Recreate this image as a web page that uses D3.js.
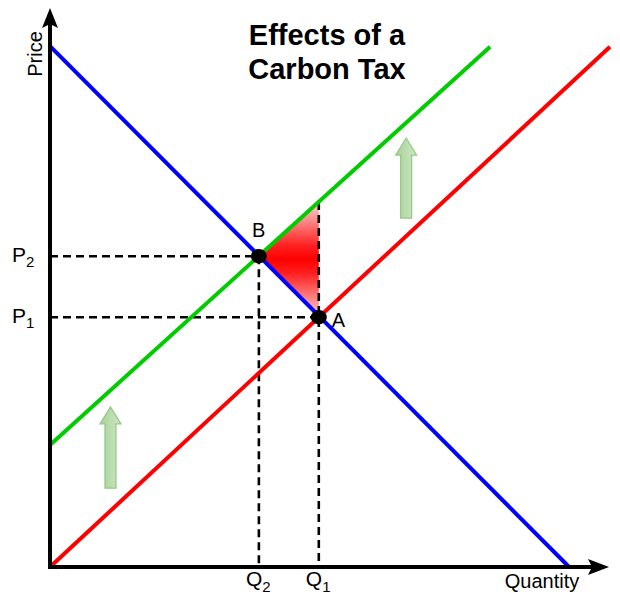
<!DOCTYPE html>
<html>
<head>
<meta charset="utf-8">
<script src="https://cdn.jsdelivr.net/npm/d3@7"></script>
<style>
  html, body { margin: 0; padding: 0; background: #fff; }
  svg { display: block; font-family: "Liberation Sans", Arial, Helvetica, sans-serif; }
</style>
</head>
<body>
<svg id="chart" width="620" height="600"></svg>
<script>
// ---- data (quantity, price in chart units 0..100) ----
const titleLines = ["Effects of a", "Carbon Tax"];
const demand = [[0, 93], [92.7, 0]];
const supply = [[0, 0], [100, 92.9]];
const supplyTax = [[0, 21.8], [78.6, 92.9]];
const points = [
  { label: "A", q: 48.0, p: 44.6 },
  { label: "B", q: 37.3, p: 55.5 }
];
const lossTriangle = [[37.3, 55.5], [48.0, 65.2], [48.0, 44.6]];
const priceTicks = [{ base: "P", sub: "2", p: 55.5 }, { base: "P", sub: "1", p: 44.6 }];
const qtyTicks = [{ base: "Q", sub: "2", q: 37.3 }, { base: "Q", sub: "1", q: 48.0 }];
const shiftArrows = [{ q: 63.6, p0: 62.3, p1: 76.6 }, { q: 10.8, p0: 14.1, p1: 28.6 }];
const axisLabels = { x: "Quantity", y: "Price" };

// ---- scales ----
const x = d3.scaleLinear().domain([0, 100]).range([50, 610]);
const y = d3.scaleLinear().domain([0, 100]).range([567, 7]);

const svg = d3.select("#chart");
const defs = svg.append("defs");

const tg = defs.append("linearGradient").attr("id", "triGrad")
  .attr("x1", 0).attr("y1", 0).attr("x2", 0).attr("y2", 1);
tg.append("stop").attr("offset", 0).attr("stop-color", "#fcd8d8");
tg.append("stop").attr("offset", 0.38).attr("stop-color", "#ff2020");
tg.append("stop").attr("offset", 0.5).attr("stop-color", "#ff0000");
tg.append("stop").attr("offset", 0.62).attr("stop-color", "#ff2020");
tg.append("stop").attr("offset", 1).attr("stop-color", "#fcd0d0");

const ag = defs.append("linearGradient").attr("id", "arrGrad")
  .attr("x1", 0).attr("y1", 0).attr("x2", 1).attr("y2", 0);
ag.append("stop").attr("offset", 0).attr("stop-color", "#a6d196");
ag.append("stop").attr("offset", 1).attr("stop-color", "#cfe8c6");

// ---- loss triangle ----
svg.append("path")
  .attr("d", d3.line().x(d => x(d[0])).y(d => y(d[1]))(lossTriangle) + "Z")
  .attr("fill", "url(#triGrad)");

// ---- dashed guides ----
const dash = "8,5";
const guides = svg.append("g").attr("stroke", "#000").attr("stroke-width", 2.6)
  .attr("stroke-dasharray", dash).attr("fill", "none");
points.forEach(pt => {
  guides.append("line").attr("x1", x(0)).attr("x2", x(pt.q))
    .attr("y1", y(pt.p)).attr("y2", y(pt.p));
});
guides.append("line").attr("x1", x(points[1].q)).attr("x2", x(points[1].q))
  .attr("y1", y(points[1].p)).attr("y2", y(0));
guides.append("line").attr("x1", x(lossTriangle[1][0])).attr("x2", x(lossTriangle[1][0]))
  .attr("y1", y(lossTriangle[1][1])).attr("y2", y(0));

// ---- curves ----
const line = d3.line().x(d => x(d[0])).y(d => y(d[1]));
[[demand, "#0000ff"], [supply, "#ff0000"], [supplyTax, "#00cc00"]].forEach(([dt, c]) => {
  svg.append("path").attr("d", line(dt)).attr("stroke", c)
    .attr("stroke-width", 4).attr("fill", "none");
});

// ---- shift arrows ----
shiftArrows.forEach(a => {
  const cx = x(a.q), yb = y(a.p0), yt = y(a.p1);
  const sw = 5.5, hw = 10.5, hh = 17;
  const pts = [[cx - sw, yb], [cx - sw, yt + hh], [cx - hw, yt + hh], [cx, yt],
    [cx + hw, yt + hh], [cx + sw, yt + hh], [cx + sw, yb]];
  svg.append("path").attr("d", d3.line()(pts) + "Z")
    .attr("fill", "url(#arrGrad)").attr("stroke", "#92c784").attr("stroke-width", 1.2);
});

// ---- axes ----
svg.append("line").attr("x1", x(0)).attr("x2", x(0)).attr("y1", y(0) + 1.5).attr("y2", 24)
  .attr("stroke", "#000").attr("stroke-width", 4);
svg.append("line").attr("x1", x(0) - 2).attr("x2", 592).attr("y1", y(0)).attr("y2", y(0))
  .attr("stroke", "#000").attr("stroke-width", 4);
svg.append("path").attr("d", d3.line()([[x(0), 8], [x(0) - 8, 28], [x(0), 24], [x(0) + 8, 28]]) + "Z")
  .attr("fill", "#000");
svg.append("path").attr("d", d3.line()([[609, y(0)], [588, y(0) - 8], [592, y(0)], [588, y(0) + 8]]) + "Z")
  .attr("fill", "#000");

// ---- points ----
points.forEach(pt => {
  svg.append("ellipse").attr("cx", x(pt.q)).attr("cy", y(pt.p)).attr("rx", 8).attr("ry", 7.2)
    .attr("fill", "#000");
});
svg.append("text").attr("x", x(points[0].q) + 13).attr("y", y(points[0].p) + 10)
  .attr("font-size", 20).text(points[0].label);
svg.append("text").attr("x", x(points[1].q) - 7).attr("y", y(points[1].p) - 19)
  .attr("font-size", 20).text(points[1].label);

// ---- tick labels ----
priceTicks.forEach(t => {
  const tx = svg.append("text").attr("x", 12).attr("y", y(t.p) + 6).attr("font-size", 21);
  tx.append("tspan").text(t.base);
  tx.append("tspan").attr("font-size", 15).attr("dy", 5).text(t.sub);
});
qtyTicks.forEach(t => {
  const tx = svg.append("text").attr("x", x(t.q) - 13).attr("y", 586).attr("font-size", 21);
  tx.append("tspan").text(t.base);
  tx.append("tspan").attr("font-size", 15).attr("dy", 6).text(t.sub);
});

// ---- axis labels ----
svg.append("text").attr("x", 542).attr("y", 588).attr("text-anchor", "middle")
  .attr("font-size", 20).text(axisLabels.x);
svg.append("text").attr("transform", "translate(42,54) rotate(-90)")
  .attr("text-anchor", "middle").attr("font-size", 20).text(axisLabels.y);

// ---- title ----
titleLines.forEach((t, i) => {
  svg.append("text").attr("x", 327).attr("y", 45 + i * 34).attr("text-anchor", "middle")
    .attr("font-size", 29).attr("font-weight", "bold").text(t);
});
</script>
</body>
</html>
